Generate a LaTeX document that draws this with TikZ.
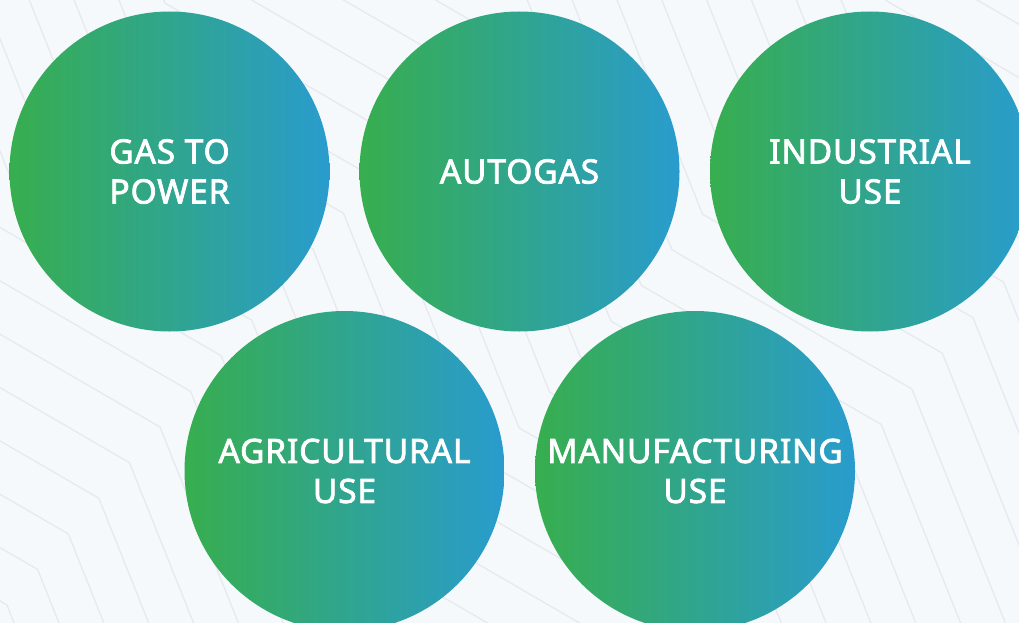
\documentclass[tikz,border=0pt]{standalone}
\usepackage{fontspec}
\setsansfont{Noto Sans}[AutoFakeBold=2.2,LetterSpace=2.5]
\definecolor{bgc}{RGB}{245,249,252}
\definecolor{linec}{RGB}{230,234,238}
\definecolor{gl}{RGB}{55,174,78}
\definecolor{bl}{RGB}{41,156,206}
\tikzset{
  bgline/.style={draw=linec, line width=1.3pt},
  bubble/.style={circle, minimum size=320pt, inner sep=0pt, draw=none,
    left color=gl, right color=bl, text=white, align=center,
    font=\sffamily\bfseries\fontsize{33.5}{40}\selectfont}
}
\begin{document}
\begin{tikzpicture}[x=1pt,y=-1pt]
\fill[bgc] (0,0) rectangle (1019,623);
\useasboundingbox (0,0) rectangle (1019,623);
\begin{scope}
\clip (0,0) rectangle (1019,623);
\foreach \k in {-26,...,11}{
  \draw[bgline] ({160-30.6*\k-3*354},{427+35.6*\k-3*424.7})
    \foreach \n in {-3,...,3}{
      -- ({160-30.6*\k+354*\n},{427+35.6*\k+424.7*\n})
      -- ({274.2-30.6*\k+354*\n},{712.6+35.6*\k+424.7*\n})
    };
}
\end{scope}
\node[bubble] (gas) at (169.5,171.5) {GAS TO\\POWER};
\node[bubble] (auto) at (519.5,171.5) {AUTOGAS};
\node[bubble] (ind) at (870,171.5) {INDUSTRIAL\\USE};
\node[bubble] (agr) at (344.5,471) {AGRICULTURAL\\USE};
\node[bubble] (man) at (695,471) {MANUFACTURING\\USE};
\end{tikzpicture}
\end{document}
